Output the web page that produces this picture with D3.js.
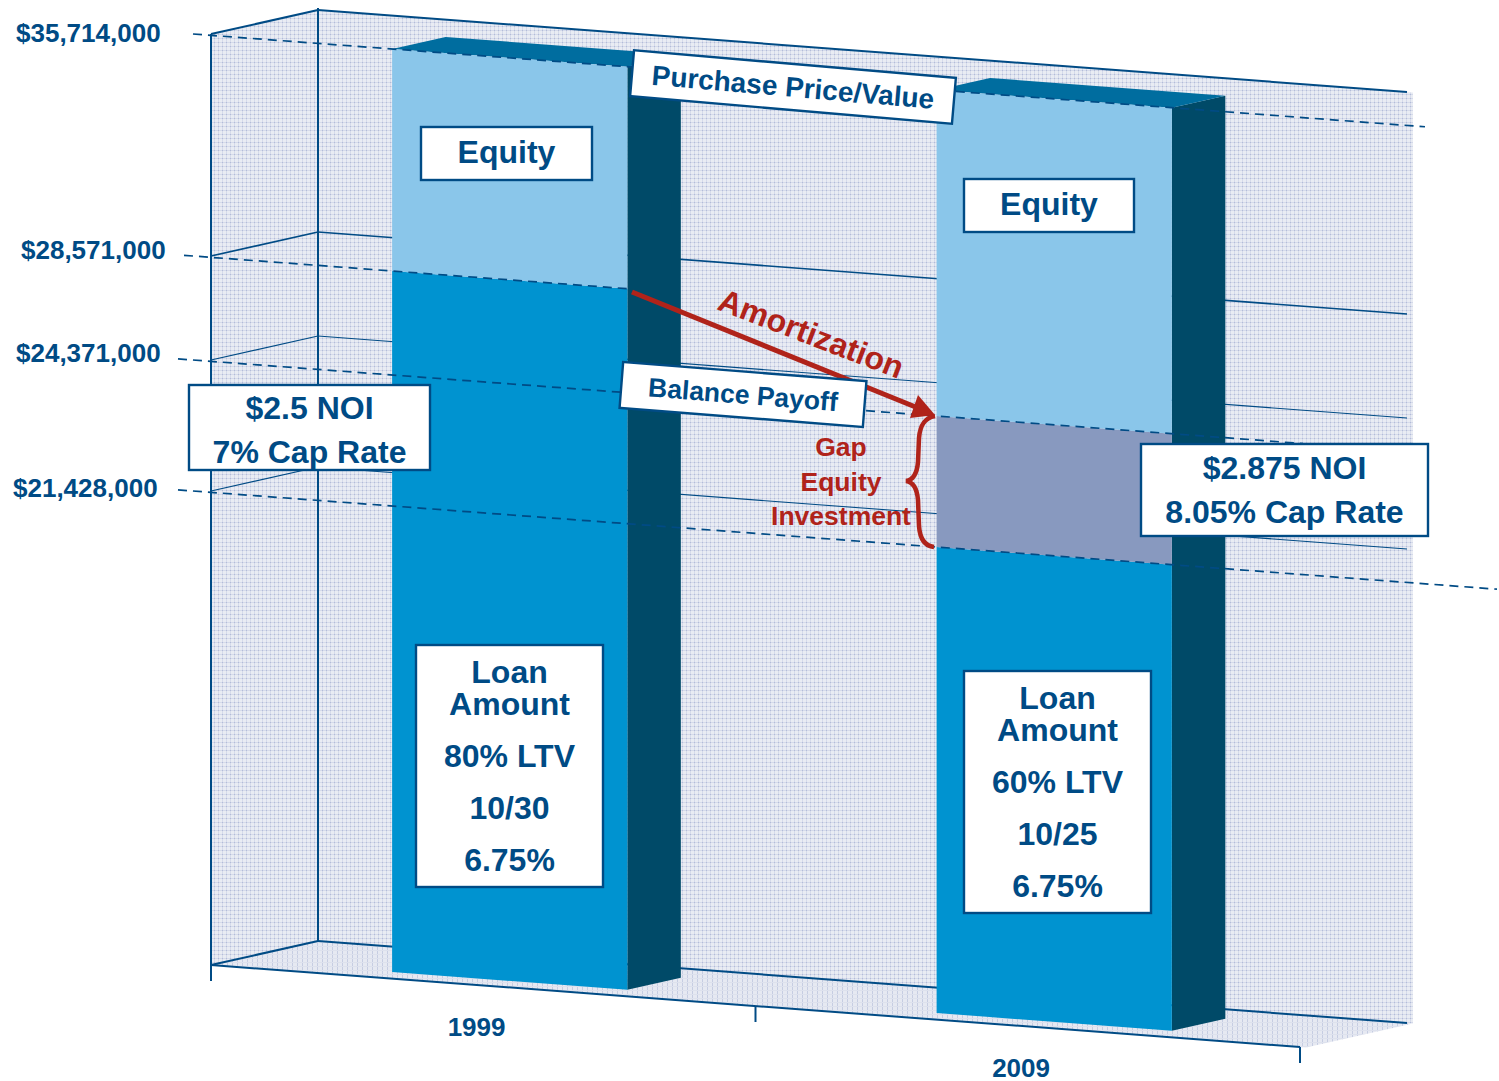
<!DOCTYPE html>
<html>
<head>
<meta charset="utf-8">
<script src="https://cdn.jsdelivr.net/npm/d3@7/dist/d3.min.js"></script>
<style>
html,body{margin:0;padding:0;background:#fff}
svg{display:block}
text{font-family:"Liberation Sans",Arial,sans-serif;font-weight:700}
</style>
</head>
<body>
<div id="chart"></div>
<script>
// ---- data ----
const years = ["1999", "2009"];
const loanValues = [28571000, 21428000];
const gapValues = [0, 2943000];
const equityValues = [7143000, 11343000];
const tickValues = [35714000, 28571000, 24371000, 21428000];
const tickLabels = ["$35,714,000", "$28,571,000", "$24,371,000", "$21,428,000"];
const equityLabels = ["Equity", "Equity"];
const loanLabels = [
  ["Loan", "Amount", "80% LTV", "10/30", "6.75%"],
  ["Loan", "Amount", "60% LTV", "10/25", "6.75%"]
];
const noiLabels = [["$2.5 NOI", "7% Cap Rate"], ["$2.875 NOI", "8.05% Cap Rate"]];
const gapLabels = ["Gap", "Equity", "Investment"];

// ---- colours ----
const navy = "#004b85", red = "#b0231a";
const cEquity = "#8ac6ea", cLoan = "#0093d0", cGap = "#8899bf", cSide = "#004a68", cTop = "#006d9f";

// ---- scales: the plot is an oblique 3-D projection ----
const W = 1499, H = 1081;
const floorLen = 1089;
const u = d3.scaleBand().domain(years).range([0, floorLen]).paddingInner(0.568).paddingOuter(0.284).align(0.514);
const value = d3.scaleLinear() // the reference's value axis is not to scale
  .domain([0, 21428000, 24371000, 28571000, 35714000])
  .range([0, 466, 597, 701, 923]);
const depthX = d3.scaleLinear().domain([0, 1]).range([0, 107]);
const depthY = d3.scaleLinear().domain([0, 1]).range([0, -24]);
const alongX = d3.scaleLinear().domain([0, floorLen]).range([211, 1300]);
const alongY = d3.scaleLinear().domain([0, floorLen]).range([965, 1047]);
const px = (a, d) => alongX(a) + depthX(d);
const py = (a, d, h) => alongY(a) + depthY(d) - h;
const pt = (a, d, h) => [px(a, d), py(a, d, h)];
const wallLift = 8;
const barD0 = 0.207, barD1 = 0.707;

const svg = d3.select("#chart").append("svg").attr("width", W).attr("height", H);
const poly = (g, pts, fill) => g.append("path").attr("d", "M" + pts.map(p => p.join(",")).join("L") + "Z").attr("fill", fill);
const seg = (g, a, b, w, col) => g.append("line").attr("x1", a[0]).attr("y1", a[1]).attr("x2", b[0]).attr("y2", b[1]).attr("stroke", col || navy).attr("stroke-width", w);

// ---- pattern for walls ----
const defs = svg.append("defs");
const pat = defs.append("pattern").attr("id", "grid").attr("patternUnits", "userSpaceOnUse").attr("width", 4).attr("height", 4);
pat.append("rect").attr("width", 4).attr("height", 4).attr("fill", "#e9ecf3");
pat.append("rect").attr("x", 2).attr("width", 1).attr("height", 4).attr("fill", "#d5daea");
pat.append("rect").attr("y", 2).attr("width", 4).attr("height", 1).attr("fill", "#d5daea");
pat.append("rect").attr("x", 2).attr("y", 2).attr("width", 1).attr("height", 1).attr("fill", "#b3bcd8");
const pat2 = defs.append("pattern").attr("id", "gridFloor").attr("patternUnits", "userSpaceOnUse").attr("width", 5).attr("height", 4);
pat2.append("rect").attr("width", 5).attr("height", 4).attr("fill", "#e6e9f2");
pat2.append("rect").attr("x", 2).attr("width", 1).attr("height", 4).attr("fill", "#c6cde2");
pat2.append("rect").attr("y", 2).attr("width", 5).attr("height", 1).attr("fill", "#dde1ed");

const wallTop = value(35714000) + wallLift;
const walls = svg.append("g");
poly(walls, [pt(0, 0, 0), pt(0, 1, 0), pt(floorLen + 6, 1, 0), pt(floorLen + 6, 0, 0)], "url(#gridFloor)");
poly(walls, [pt(0, 0, wallTop), pt(0, 1, wallTop), pt(0, 1, 0), pt(0, 0, 0)], "url(#grid)");
poly(walls, [pt(0, 1, wallTop), pt(floorLen + 6, 1, wallTop), pt(floorLen + 6, 1, 0), pt(0, 1, 0)], "url(#grid)");

// ---- gridlines on walls ----
const grid = svg.append("g");
const gridWidths = [2, 1.6, 1.1, 1.1];
tickValues.forEach((v, i) => {
  const h = value(v) + wallLift;
  seg(grid, pt(0, 0, h), pt(0, 1, h), gridWidths[i]);
  seg(grid, pt(0, 1, h), pt(floorLen, 1, h), gridWidths[i]);
});
seg(grid, pt(0, 0, wallTop), pt(0, 0, -16), 2);
seg(grid, pt(0, 1, wallTop + 2), pt(0, 1, 0), 2);
seg(grid, pt(0, 0, 0), pt(0, 1, 0), 2);
seg(grid, pt(0, 1, 0), pt(floorLen, 1, 0), 2);
seg(grid, pt(0, 0, 0), pt(floorLen, 0, 0), 2);
[0, floorLen / 2, floorLen].forEach(a => seg(grid, pt(a, 0, 0), pt(a, 0, -16), 2));

// ---- bars ----
const bars = svg.append("g");
years.forEach((y, i) => {
  const a0 = u(y), a1 = a0 + u.bandwidth();
  const stack = [[loanValues[i], cLoan], [gapValues[i], cGap], [equityValues[i], cEquity]];
  let acc = 0;
  const top = value(loanValues[i] + gapValues[i] + equityValues[i]);
  poly(bars, [pt(a1, barD0, 0), pt(a1, barD1, 0), pt(a1, barD1, top), pt(a1, barD0, top)], cSide);
  poly(bars, [pt(a0, barD0, top), pt(a0, barD1, top), pt(a1, barD1, top), pt(a1, barD0, top)], cTop);
  stack.forEach(([v, col]) => {
    if (!v) return;
    const h0 = value(acc), h1 = value(acc + v);
    poly(bars, [pt(a0, barD0, h0), pt(a1, barD0, h0), pt(a1, barD0, h1), pt(a0, barD0, h1)], col);
    acc += v;
  });
});

// ---- dashed level lines, in the plane of the bar fronts ----
const dashes = svg.append("g");
const dashEnds = [[193, 1425], [184, 627], [178, 1303], [178, 1497]];
tickValues.forEach((v, i) => {
  const h = value(v);
  const at = x => { const a = x - px(0, barD0); return [x, py(a, barD0, h)]; };
  const l = seg(dashes, at(dashEnds[i][0]), at(dashEnds[i][1]), 1.7);
  l.attr("stroke-dasharray", "9 6");
});

// ---- amortization arrow and brace ----
const marks = svg.append("g");
seg(marks, [632, 292], [918, 408], 5, red);
poly(marks, [[935, 415], [910, 418], [918, 395]], red);
marks.append("path")
  .attr("d", "M935,416 C924,418 920,426 919,438 L918,462 C917,474 913,480 906,481 C913,482 917,488 918,500 L919,526 C920,540 925,546 934,547")
  .attr("fill", "none").attr("stroke", red).attr("stroke-width", 4.5);

const txt = (g, s, x, y, size, col, anchor) => g.append("text").text(s).attr("x", x).attr("y", y)
  .attr("font-size", size).attr("fill", col || navy).attr("text-anchor", anchor || "middle");

marks.append("text").text("Amortization").attr("transform", "translate(716,309) rotate(21)")
  .attr("font-size", 32).attr("fill", red);
const gapBase = [456, 491, 525];
gapLabels.forEach((s, i) => txt(marks, s, 841, gapBase[i], 26.5, red));

// ---- boxes and labels ----
const labels = svg.append("g");
const box = (x0, y0, x1, y1) => labels.append("rect").attr("x", x0).attr("y", y0).attr("width", x1 - x0).attr("height", y1 - y0)
  .attr("fill", "#fff").attr("stroke", navy).attr("stroke-width", 2.4);

const tickX = [16, 21, 16, 13], tickY = [42, 259, 362, 497];
tickLabels.forEach((s, i) => txt(labels, s, tickX[i], tickY[i], 26, navy, "start"));

years.forEach(y => {
  const a = u(y) + u.bandwidth() / 2;
  txt(labels, y, alongX(a) - 11, alongY(a) + 50, 26);
});

const eqBoxes = [[421, 127, 592, 180], [964, 179, 1134, 232]];
equityLabels.forEach((s, i) => {
  const b = eqBoxes[i];
  box(...b);
  txt(labels, s, (b[0] + b[2]) / 2, b[1] + 36, 32);
});

const loanBoxes = [[416, 645, 603, 887], [964, 671, 1151, 913]];
const loanOffsets = [38, 70, 122, 174, 226];
loanLabels.forEach((lines, i) => {
  const b = loanBoxes[i];
  box(...b);
  lines.forEach((s, j) => txt(labels, s, (b[0] + b[2]) / 2, b[1] + loanOffsets[j], 32));
});

const noiBoxes = [[189, 385, 430, 470], [1141, 444, 1428, 536]];
const noiBase = [[419, 463], [479, 523]];
noiLabels.forEach((lines, i) => {
  const b = noiBoxes[i];
  box(...b);
  lines.forEach((s, j) => txt(labels, s, (b[0] + b[2]) / 2, noiBase[i][j], 32));
});

const tilted = (s, cx, cy, w, h, ang, size) => {
  const g = labels.append("g").attr("transform", `translate(${cx},${cy}) rotate(${ang})`);
  g.append("rect").attr("x", -w / 2).attr("y", -h / 2).attr("width", w).attr("height", h)
    .attr("fill", "#fff").attr("stroke", navy).attr("stroke-width", 2.4);
  txt(g, s, 0, size * 0.35, size);
};
tilted("Purchase Price/Value", 793, 87, 323, 46, 4.9, 28);
tilted("Balance Payoff", 743, 394.5, 244, 46, 4.5, 26.5);
</script>
</body>
</html>
